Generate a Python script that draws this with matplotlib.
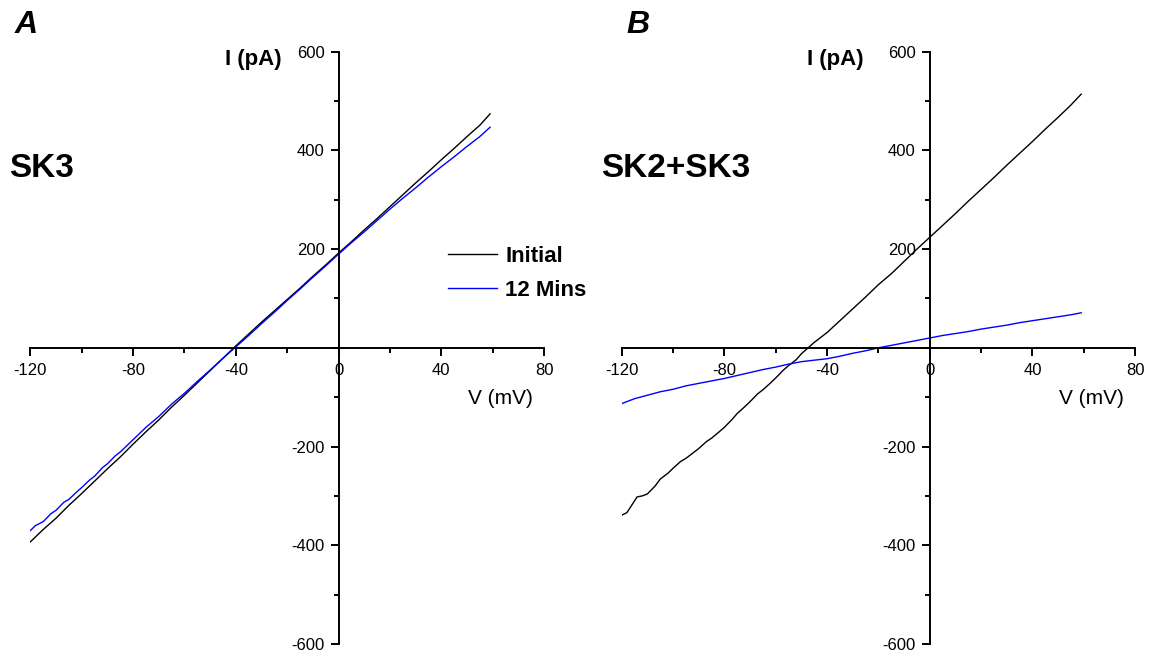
import matplotlib
matplotlib.use("Agg")
import matplotlib.pyplot as plt
from matplotlib.ticker import MultipleLocator, FixedLocator, FuncFormatter

plt.rcParams['font.family'] = ['Liberation Sans', 'DejaVu Sans']

# ---------------- data ----------------
# Panel A : SK3
v_a_initial = [-120, -115, -110, -105, -100, -95, -90, -85, -80, -75, -70, -65, -60,
               -55, -50, -45, -40, -35, -30, -25, -20, -15, -10, -5, 0, 5, 10, 15,
               20, 25, 30, 35, 40, 45, 50, 55, 59]
i_a_initial = [-393, -368, -345, -319, -295, -270, -245, -221, -195, -170, -146, -120, -96,
               -71, -46, -21, 4, 28, 52, 75, 98, 121, 145, 168, 192, 215, 239, 262,
               286, 310, 334, 357, 381, 404, 428, 451, 474]

v_a_12min = [-120, -118, -115, -112, -110, -107, -105, -102, -100, -97, -95, -92, -90,
             -87, -85, -82, -80, -75, -70, -65, -60, -55, -50, -45, -40, -35, -30,
             -25, -20, -15, -10, -5, 0, 5, 10, 15, 20, 25, 30, 35, 40, 45, 50, 55, 59]
i_a_12min = [-370, -360, -352, -336, -329, -313, -307, -292, -283, -268, -260, -243, -235,
             -219, -211, -196, -186, -161, -139, -114, -92, -68, -45, -21, 2, 25, 49,
             72, 96, 119, 143, 166, 190, 213, 235, 258, 281, 303, 324, 346, 367, 387, 408, 428, 447]

# Panel B : SK2+SK3
v_b_initial = [-120, -118, -116, -114, -112, -110, -107, -105, -102, -100, -97, -95, -92,
               -90, -87, -85, -82, -80, -77, -75, -72, -70, -67, -65, -62, -60, -57,
               -55, -52, -50, -45, -40, -35, -30, -25, -20, -15, -10, -5, 0, 5, 10,
               15, 20, 25, 30, 35, 40, 45, 50, 55, 59]
i_b_initial = [-339, -334, -318, -302, -300, -296, -280, -266, -254, -244, -230, -224, -212,
               -204, -190, -183, -170, -161, -145, -133, -119, -109, -93, -85, -71, -61, -45,
               -36, -24, -12, 11, 31, 55, 79, 103, 128, 150, 175, 200, 224, 248, 272,
               297, 321, 345, 370, 394, 418, 443, 467, 492, 514]

v_b_12min = [-120, -115, -110, -105, -100, -95, -90, -85, -80, -75, -70, -65, -60,
             -55, -50, -45, -40, -35, -30, -25, -20, -15, -10, -5, 0, 5, 10, 15,
             20, 25, 30, 35, 40, 45, 50, 55, 59]
i_b_12min = [-113, -103, -96, -89, -84, -77, -72, -67, -62, -56, -50, -44, -39,
             -33, -28, -25, -22, -17, -11, -6, 0, 5, 10, 15, 20, 25, 29, 33,
             38, 42, 46, 51, 55, 59, 63, 67, 71]

series_labels = ['Initial', '12 Mins']
series_colors = ['#000000', '#0000FF']
panel_letters = ['A', 'B']
panel_titles = ['SK3', 'SK2+SK3']
x_major = [-120, -80, -40, 0, 40, 80]
y_major = [-600, -400, -200, 0, 200, 400, 600]

# ---------------- figure ----------------
W, H = 1151, 660
fig = plt.figure(figsize=(W / 100, H / 100), dpi=100)

bottom = (H - 644) / H
height = (644 - 51.7) / H
axA = fig.add_axes([30.4 / W, bottom, 513.6 / W, height])
axB = fig.add_axes([621.7 / W, bottom, 513.4 / W, height])

data = [
    ((v_a_initial, i_a_initial), (v_a_12min, i_a_12min)),
    ((v_b_initial, i_b_initial), (v_b_12min, i_b_12min)),
]
ylab_x = [-22.2, -25.7]

for k, ax in enumerate([axA, axB]):
    for (v, i), col, lab in zip(data[k], series_colors, series_labels):
        ax.plot(v, i, color=col, lw=1.0, label=lab)
    ax.set_xlim(-120, 80)
    ax.set_ylim(-600, 600)
    for s in ['top', 'right']:
        ax.spines[s].set_visible(False)
    ax.spines['left'].set_position(('data', 0))
    ax.spines['bottom'].set_position(('data', 0))
    for s in ['left', 'bottom']:
        ax.spines[s].set_linewidth(1.4)
    ax.xaxis.set_major_locator(FixedLocator(x_major))
    ax.xaxis.set_minor_locator(MultipleLocator(20))
    ax.yaxis.set_major_locator(FixedLocator(y_major))
    ax.yaxis.set_minor_locator(MultipleLocator(100))
    ax.yaxis.set_major_formatter(FuncFormatter(lambda y, p: '' if y == 0 else f'{int(y)}'))
    ax.xaxis.set_major_formatter(FuncFormatter(lambda x, p: f'{int(x)}'))
    ax.tick_params(which='major', direction='out', length=6, width=1.4, labelsize=12, pad=5)
    ax.tick_params(which='minor', direction='out', length=3.5, width=1.4)
    ax.tick_params(axis='y', which='major', pad=4)
    ax.patch.set_visible(False)

    ax.text(ylab_x[k], 574, 'I (pA)', fontsize=16, fontweight='bold',
            ha='right', va='baseline', clip_on=False)
    ax.text(75.6, -114, 'V (mV)', fontsize=15, ha='right', va='baseline', clip_on=False)
    ax.text(-128.2, 347, panel_titles[k], fontsize=24, fontweight='bold',
            ha='left', va='baseline', clip_on=False)

fig.text(15 / W, (H - 33.3) / H, panel_letters[0], fontsize=23, fontweight='bold',
         fontstyle='italic', ha='left', va='baseline')
fig.text(626.7 / W, (H - 33.3) / H, panel_letters[1], fontsize=23, fontweight='bold',
         fontstyle='italic', ha='left', va='baseline')

leg = axA.legend(loc='upper left', bbox_to_anchor=(448 / W, (H - 246) / H),
                 bbox_transform=fig.transFigure, frameon=False, borderpad=0,
                 borderaxespad=0, handlelength=2.22, handletextpad=0.36,
                 labelspacing=0.58, prop={'weight': 'bold', 'size': 16})

fig.savefig('out.png', dpi=100)
